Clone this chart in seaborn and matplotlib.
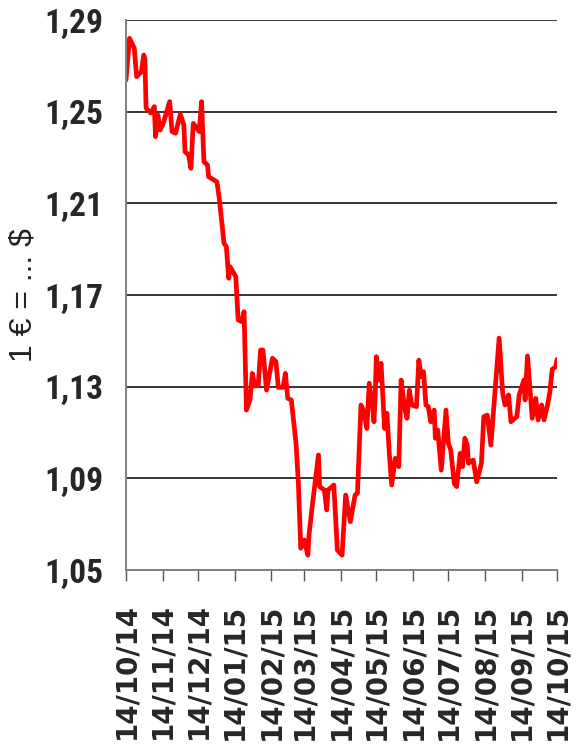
import pandas as pd
import seaborn as sns
import matplotlib.pyplot as plt
import matplotlib.dates as mdates
from matplotlib.ticker import FixedLocator, FuncFormatter

#---- Data: days after 14/10/14 and the EUR/USD rate ----#
start = pd.Timestamp('2014-10-14')
end = pd.Timestamp('2015-10-14')

days = [0, 3, 7, 9, 13, 15, 16, 17, 21, 24, 25, 27, 29, 32, 37, 39, 42, 46, 49, 50,
        53, 55, 57, 62, 64, 66, 69, 70, 77, 79, 83, 85, 87, 88, 93, 95, 98, 100, 102, 105,
        107, 109, 112, 114, 116, 119, 124, 127, 129, 133, 135, 137, 140, 144, 146, 148, 151, 154, 155, 158,
        163, 164, 168, 170, 171, 176, 179, 183, 186, 190, 194, 196, 199, 201, 204, 206, 209, 210, 211, 212,
        214, 216, 219, 221, 223, 225, 228, 231, 233, 236, 238, 240, 242, 246, 248, 250, 252, 254, 256, 258,
        261, 262, 264, 267, 271, 273, 275, 278, 280, 283, 285, 287, 289, 290, 294, 297, 301, 303, 306, 309,
        316, 319, 321, 324, 326, 331, 333, 337, 338, 340, 344, 347, 349, 352, 354, 357, 359, 361, 364, 365]

rate = [1.2638, 1.2820, 1.2777, 1.2653, 1.2674, 1.2747, 1.2733, 1.2516, 1.2494, 1.2522,
        1.2391, 1.2485, 1.2420, 1.2456, 1.2544, 1.2413, 1.2406, 1.2489, 1.2442, 1.2325,
        1.2311, 1.2253, 1.2449, 1.2413, 1.2544, 1.2282, 1.2267, 1.2216, 1.2194, 1.2122,
        1.1926, 1.1911, 1.1773, 1.1824, 1.1780, 1.1591, 1.1584, 1.1627, 1.1198, 1.1242,
        1.1358, 1.1303, 1.1307, 1.1460, 1.1460, 1.1285, 1.1424, 1.1409, 1.1297, 1.1297,
        1.1358, 1.1249, 1.1242, 1.1053, 1.0878, 1.0595, 1.0631, 1.0565, 1.0653, 1.0791,
        1.1002, 1.0864, 1.0849, 1.0762, 1.0849, 1.0871, 1.0587, 1.0565, 1.0827, 1.0711,
        1.0827, 1.0835, 1.1220, 1.1198, 1.1118, 1.1315, 1.1206, 1.1147, 1.1256, 1.1431,
        1.1329, 1.1402, 1.1118, 1.1184, 1.1009, 1.0871, 1.0987, 1.0951, 1.1329, 1.1206,
        1.1162, 1.1285, 1.1220, 1.1213, 1.1416, 1.1344, 1.1365, 1.1220, 1.1213, 1.1147,
        1.1198, 1.1075, 1.1111, 1.0936, 1.1198, 1.1053, 1.1024, 1.0878, 1.0864, 1.1009,
        1.0951, 1.1075, 1.1045, 1.0966, 1.0980, 1.0885, 1.0966, 1.1169, 1.1176, 1.1045,
        1.1512, 1.1271, 1.1220, 1.1264, 1.1147, 1.1169, 1.1264, 1.1329, 1.1242, 1.1434,
        1.1162, 1.1249, 1.1155, 1.1220, 1.1155, 1.1220, 1.1278, 1.1376, 1.1387, 1.1419]

y_ticks = [1.05, 1.09, 1.13, 1.17, 1.21, 1.25, 1.29]
y_label = '1 € = ... $'

df = pd.DataFrame({'date': start + pd.to_timedelta(days, unit='D'), 'rate': rate})

#---- Plot ----#
sns.set_style('white')
plt.rcParams['font.family'] = ['Liberation Sans', 'DejaVu Sans']

fig = plt.figure(figsize=(5.83, 7.55), dpi=100)
ax = fig.add_axes([0.2161, 0.245, 0.7393, 0.7285])

sns.lineplot(data=df, x='date', y='rate', color='#ff0000', linewidth=3.4, ax=ax)

ax.set_xlim(start, end)
ax.set_ylim(1.05, 1.29)
ax.yaxis.set_major_locator(FixedLocator(y_ticks))
ax.yaxis.set_major_formatter(FuncFormatter(lambda v, p: f'{v:.2f}'.replace('.', ',')))
ax.grid(axis='y', color='black', linewidth=1.1)
ax.grid(axis='x', visible=False)

ax.xaxis.set_major_locator(mdates.MonthLocator(bymonthday=14))
ax.xaxis.set_major_formatter(mdates.DateFormatter('%d/%m/%y'))

for side in ['top', 'right']:
    ax.spines[side].set_visible(False)
for side in ['left', 'bottom']:
    ax.spines[side].set_color('#808080')
    ax.spines[side].set_linewidth(1.4)

ax.tick_params(axis='x', direction='out', length=8, width=1, color='#555555',
               pad=16, bottom=True)
ax.tick_params(axis='y', length=0, pad=16)

for lab in ax.get_xticklabels():
    lab.set_rotation(90)
    lab.set_fontfamily('DejaVu Sans')
    lab.set_fontweight('bold')
    lab.set_fontsize(20)
for lab in ax.get_yticklabels():
    lab.set_fontfamily(['Liberation Sans Narrow', 'Roboto Condensed',
                        'DejaVu Sans Condensed', 'Liberation Sans'])
    lab.set_fontweight('bold')
    lab.set_fontsize(24)

ax.set_xlabel('')
ax.set_ylabel(y_label, fontsize=23, color='#222222')
ax.yaxis.set_label_coords(-0.204, 0.5)

fig.savefig('out.png', dpi=100)
plt.close()
